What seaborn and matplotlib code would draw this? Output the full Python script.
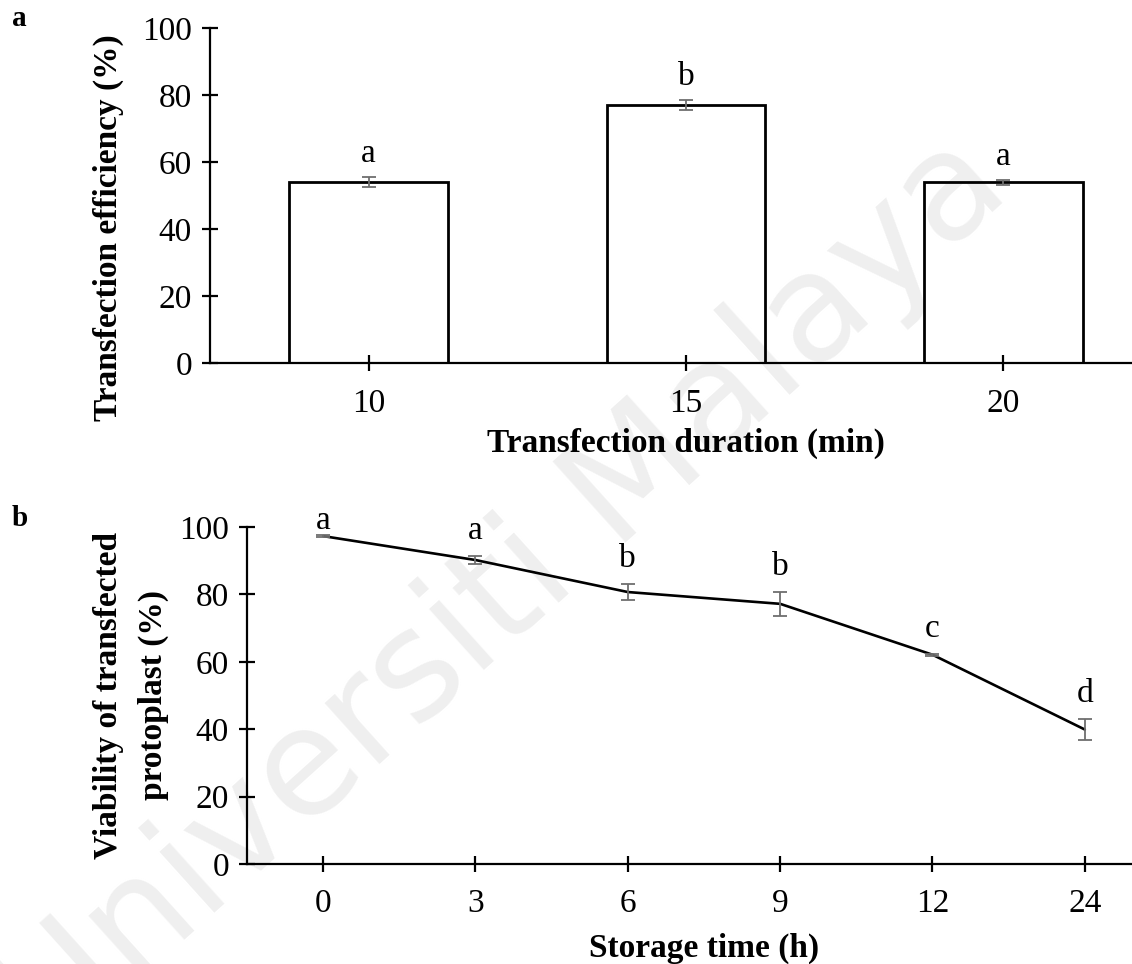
import numpy as np
import pandas as pd
import matplotlib
matplotlib.use("Agg")
import matplotlib.pyplot as plt
import seaborn as sns

# ---------------- data ----------------
# panel a: transfection duration
durations = ["10", "15", "20"]
efficiency = [54.1, 77.0, 53.9]
efficiency_err = [1.5, 1.5, 0.8]
efficiency_letters = ["a", "b", "a"]

# panel b: storage time of transfected protoplasts
storage_times = ["0", "3", "6", "9", "12", "24"]
viability = [97.3, 90.2, 80.7, 77.2, 62.1, 39.9]
viability_err = [0.4, 1.3, 2.5, 3.5, 0.3, 3.0]
viability_letters = ["a", "a", "b", "b", "c", "d"]

# ---------------- style ----------------
sns.set_style("ticks")
plt.rcParams["font.family"] = ["Liberation Serif", "DejaVu Serif"]
plt.rcParams["axes.linewidth"] = 1.6
plt.rcParams["text.color"] = "black"
plt.rcParams["axes.labelcolor"] = "black"

W, H = 1132, 964
fig = plt.figure(figsize=(W / 100, H / 100), dpi=100)

def px_axes(left, right, top, bottom):
    return fig.add_axes([left / W, 1 - bottom / H, (right - left) / W, (bottom - top) / H])

ax_a = px_axes(210, 1162, 28, 363)
ax_b = px_axes(247, 1161, 527, 864)

err_color = "#6e6e6e"
tick_font = 24
label_font = 24

# ---------------- panel a ----------------
dfa = pd.DataFrame({"duration": durations, "efficiency": efficiency})
sns.barplot(data=dfa, x="duration", y="efficiency", ax=ax_a, width=0.5,
            color="white", edgecolor="black", linewidth=2.0, errorbar=None)
for p in ax_a.patches:
    p.set_facecolor("none")
ax_a.errorbar(durations, efficiency, yerr=efficiency_err, fmt="none",
              ecolor=err_color, elinewidth=1.3, capsize=5, capthick=1.3, zorder=4)
for x, v, e, t in zip(durations, efficiency, efficiency_err, efficiency_letters):
    ax_a.text(x, v + e + 7, t, ha="center", va="center", fontsize=tick_font)

ax_a.set_xlim(-0.5, 2.5)
ax_a.set_ylim(0, 100)
ax_a.set_yticks(np.arange(0, 101, 20))
ax_a.set_xlabel("Transfection duration (min)", fontsize=label_font,
                fontweight="bold", va="center")
ax_a.set_ylabel("Transfection efficiency (%)", fontsize=label_font,
                fontweight="bold", va="center")
ax_a.xaxis.set_label_coords(0.5, -0.239)
ax_a.yaxis.set_label_coords(-0.107, 0.405)

# ---------------- panel b ----------------
dfb = pd.DataFrame({"time": storage_times, "viability": viability})
sns.lineplot(data=dfb, x="time", y="viability", ax=ax_b, color="black",
             linewidth=1.9, sort=False, errorbar=None)
ax_b.errorbar(storage_times, viability, yerr=viability_err, fmt="none",
              ecolor=err_color, elinewidth=1.3, capsize=5, capthick=1.3, zorder=4)
for x, v, e, t in zip(storage_times, viability, viability_err, viability_letters):
    ax_b.text(x, min(v + e + 7.5, 102), t, ha="center", va="center",
              fontsize=tick_font, clip_on=False)

ax_b.set_xlim(-0.5, 5.5)
ax_b.set_ylim(0, 100)
ax_b.set_yticks(np.arange(0, 101, 20))
ax_b.set_xlabel("Storage time (h)", fontsize=label_font, fontweight="bold", va="center")
ax_b.set_ylabel("Viability of transfected\nprotoplast (%)", fontsize=label_font,
                fontweight="bold", linespacing=1.55, va="center")
ax_b.xaxis.set_label_coords(0.5, -0.249)
ax_b.yaxis.set_label_coords(-0.127, 0.5)

for ax in (ax_a, ax_b):
    sns.despine(ax=ax)
    ax.set_facecolor("none")
    ax.tick_params(axis="both", direction="inout", length=12, width=1.6,
                   labelsize=tick_font, colors="black")
    ax.tick_params(axis="x", pad=12)
    ax.tick_params(axis="y", pad=7)
    ax.spines["left"].set_color("black")
    ax.spines["bottom"].set_color("black")

# panel letters
fig.text(19 / W, 1 - 18 / H, "a", fontsize=21, fontweight="bold", ha="center", va="center")
fig.text(20 / W, 1 - 518 / H, "b", fontsize=21, fontweight="bold", ha="center", va="center")

# watermark behind everything
fig.text(505 / W, 1 - 595 / H, "Universiti Malaya", fontsize=108, rotation=42,
         color="#efefef", ha="center", va="center", rotation_mode="anchor",
         family="DejaVu Sans", zorder=-5)

fig.savefig("out.png", dpi=100)
